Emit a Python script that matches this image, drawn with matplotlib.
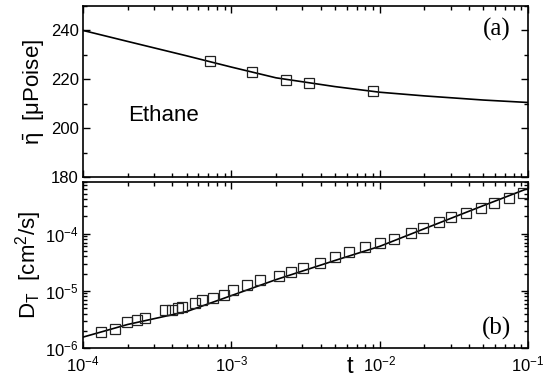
import numpy as np
import matplotlib
matplotlib.use("Agg")
import matplotlib.pyplot as plt
from matplotlib.ticker import LogLocator, MultipleLocator, NullFormatter

plt.rcParams['font.family'] = ['Liberation Sans', 'DejaVu Sans']
plt.rcParams['mathtext.fontset'] = 'custom'
plt.rcParams['mathtext.rm'] = 'Liberation Sans'
plt.rcParams['mathtext.it'] = 'Liberation Sans'
plt.rcParams['mathtext.bf'] = 'Liberation Sans:bold'

# (a) viscosity: measured points and fitted curve
visc_t = [7.2e-4, 1.38e-3, 2.34e-3, 3.34e-3, 9.0e-3]
visc_val = [227.3, 222.9, 219.6, 218.4, 215.1]
visc_fit_t = [1e-4, 2e-4, 5e-4, 1e-3, 2e-3, 5e-3, 1e-2, 2e-2, 5e-2, 1e-1]
visc_fit = [240.0, 235.5, 229.6, 225.0, 220.6, 217.0, 214.7, 213.2, 211.5, 210.5]

# (b) thermal diffusivity: measured points and fitted curve
diff_t = [1.32e-4, 1.64e-4, 1.97e-4, 2.30e-4, 2.63e-4, 3.59e-4, 4.00e-4, 4.37e-4,
          4.68e-4, 5.69e-4, 6.37e-4, 7.56e-4, 8.98e-4, 1.02e-3, 1.28e-3, 1.56e-3,
          2.08e-3, 2.52e-3, 3.03e-3, 3.96e-3, 5.00e-3, 6.22e-3, 7.94e-3, 1.01e-2,
          1.24e-2, 1.62e-2, 1.97e-2, 2.49e-2, 3.04e-2, 3.83e-2, 4.81e-2, 5.93e-2,
          7.42e-2, 9.22e-2]
diff_val = [1.87e-6, 2.16e-6, 2.83e-6, 3.07e-6, 3.34e-6, 4.58e-6, 4.71e-6, 4.91e-6,
            5.12e-6, 6.11e-6, 6.82e-6, 7.59e-6, 8.48e-6, 1.02e-5, 1.24e-5, 1.53e-5,
            1.83e-5, 2.16e-5, 2.50e-5, 3.12e-5, 3.88e-5, 4.83e-5, 5.86e-5, 6.97e-5,
            8.14e-5, 1.01e-4, 1.26e-4, 1.57e-4, 1.93e-4, 2.34e-4, 2.83e-4, 3.48e-4,
            4.27e-4, 5.18e-4]
diff_fit_t = [1e-4, 2e-4, 5e-4, 1e-3, 2e-3, 5e-3, 1e-2, 2e-2, 5e-2, 1e-1]
diff_fit = [1.55e-6, 2.58e-6, 4.34e-6, 8.25e-6, 1.57e-5, 3.40e-5, 6.0e-5, 1.22e-4,
            3.10e-4, 6.2e-4]

fig = plt.figure(figsize=(5.53, 3.77), dpi=100)
ax1 = fig.add_axes([0.150, 0.5305, 0.805, 0.4536])
ax2 = fig.add_axes([0.150, 0.0769, 0.805, 0.4403])

mk = dict(marker='s', ms=6.5, mfc='none', mec='#222222', mew=0.9, ls='none')

ax1.plot(visc_fit_t, visc_fit, color='black', lw=1.2)
ax1.plot(visc_t, visc_val, **mk)
ax1.set_xscale('log')
ax1.set_xlim(1e-4, 1e-1)
ax1.set_ylim(180, 250)
ax1.yaxis.set_minor_locator(MultipleLocator(10))
ax1.set_yticks([180, 200, 220, 240])
ax1.xaxis.set_major_formatter(NullFormatter())
ax1.xaxis.set_minor_formatter(NullFormatter())
ax1.set_ylabel(r'$\bar{\eta}$  [$\mu$Poise]', fontsize=16, labelpad=3)
ax1.text(0.18, 0.36, 'Ethane', transform=ax1.transAxes, fontsize=16,
         ha='center', va='center')
ax1.text(0.93, 0.865, '(a)', transform=ax1.transAxes, fontsize=18,
         ha='center', va='center', family=['Liberation Serif', 'DejaVu Serif'])

ax2.plot(diff_fit_t, diff_fit, color='black', lw=1.2)
ax2.plot(diff_t, diff_val, **mk)
ax2.set_xscale('log')
ax2.set_yscale('log')
ax2.set_xlim(1e-4, 1e-1)
ax2.set_ylim(1e-6, 8e-4)
ax2.yaxis.set_major_locator(LogLocator(base=10, numticks=10))
ax2.yaxis.set_minor_locator(LogLocator(base=10, subs=np.arange(2, 10), numticks=10))
ax2.yaxis.set_minor_formatter(NullFormatter())
ax2.set_ylabel(r'D$_\mathrm{T}$  [cm$^2$/s]', fontsize=16, labelpad=1)
ax2.text(0.93, 0.12, '(b)', transform=ax2.transAxes, fontsize=18,
         ha='center', va='center', family=['Liberation Serif', 'DejaVu Serif'])
fig.text(350 / 553, 1 - 367 / 377, 't', fontsize=17, ha='center', va='center')

for ax in (ax1, ax2):
    ax.xaxis.set_major_locator(LogLocator(base=10, numticks=10))
    ax.xaxis.set_minor_locator(LogLocator(base=10, subs=np.arange(2, 10), numticks=10))
    ax.xaxis.set_minor_formatter(NullFormatter())
    ax.tick_params(which='both', direction='in', top=True, right=True,
                   labelsize=12, width=1.0)
    ax.tick_params(which='major', length=5, pad=3)
    ax.tick_params(which='minor', length=3)
    ax.tick_params(axis='x', which='major', pad=5)
    for s in ax.spines.values():
        s.set_linewidth(1.2)

fig.savefig('out.png', dpi=100)
